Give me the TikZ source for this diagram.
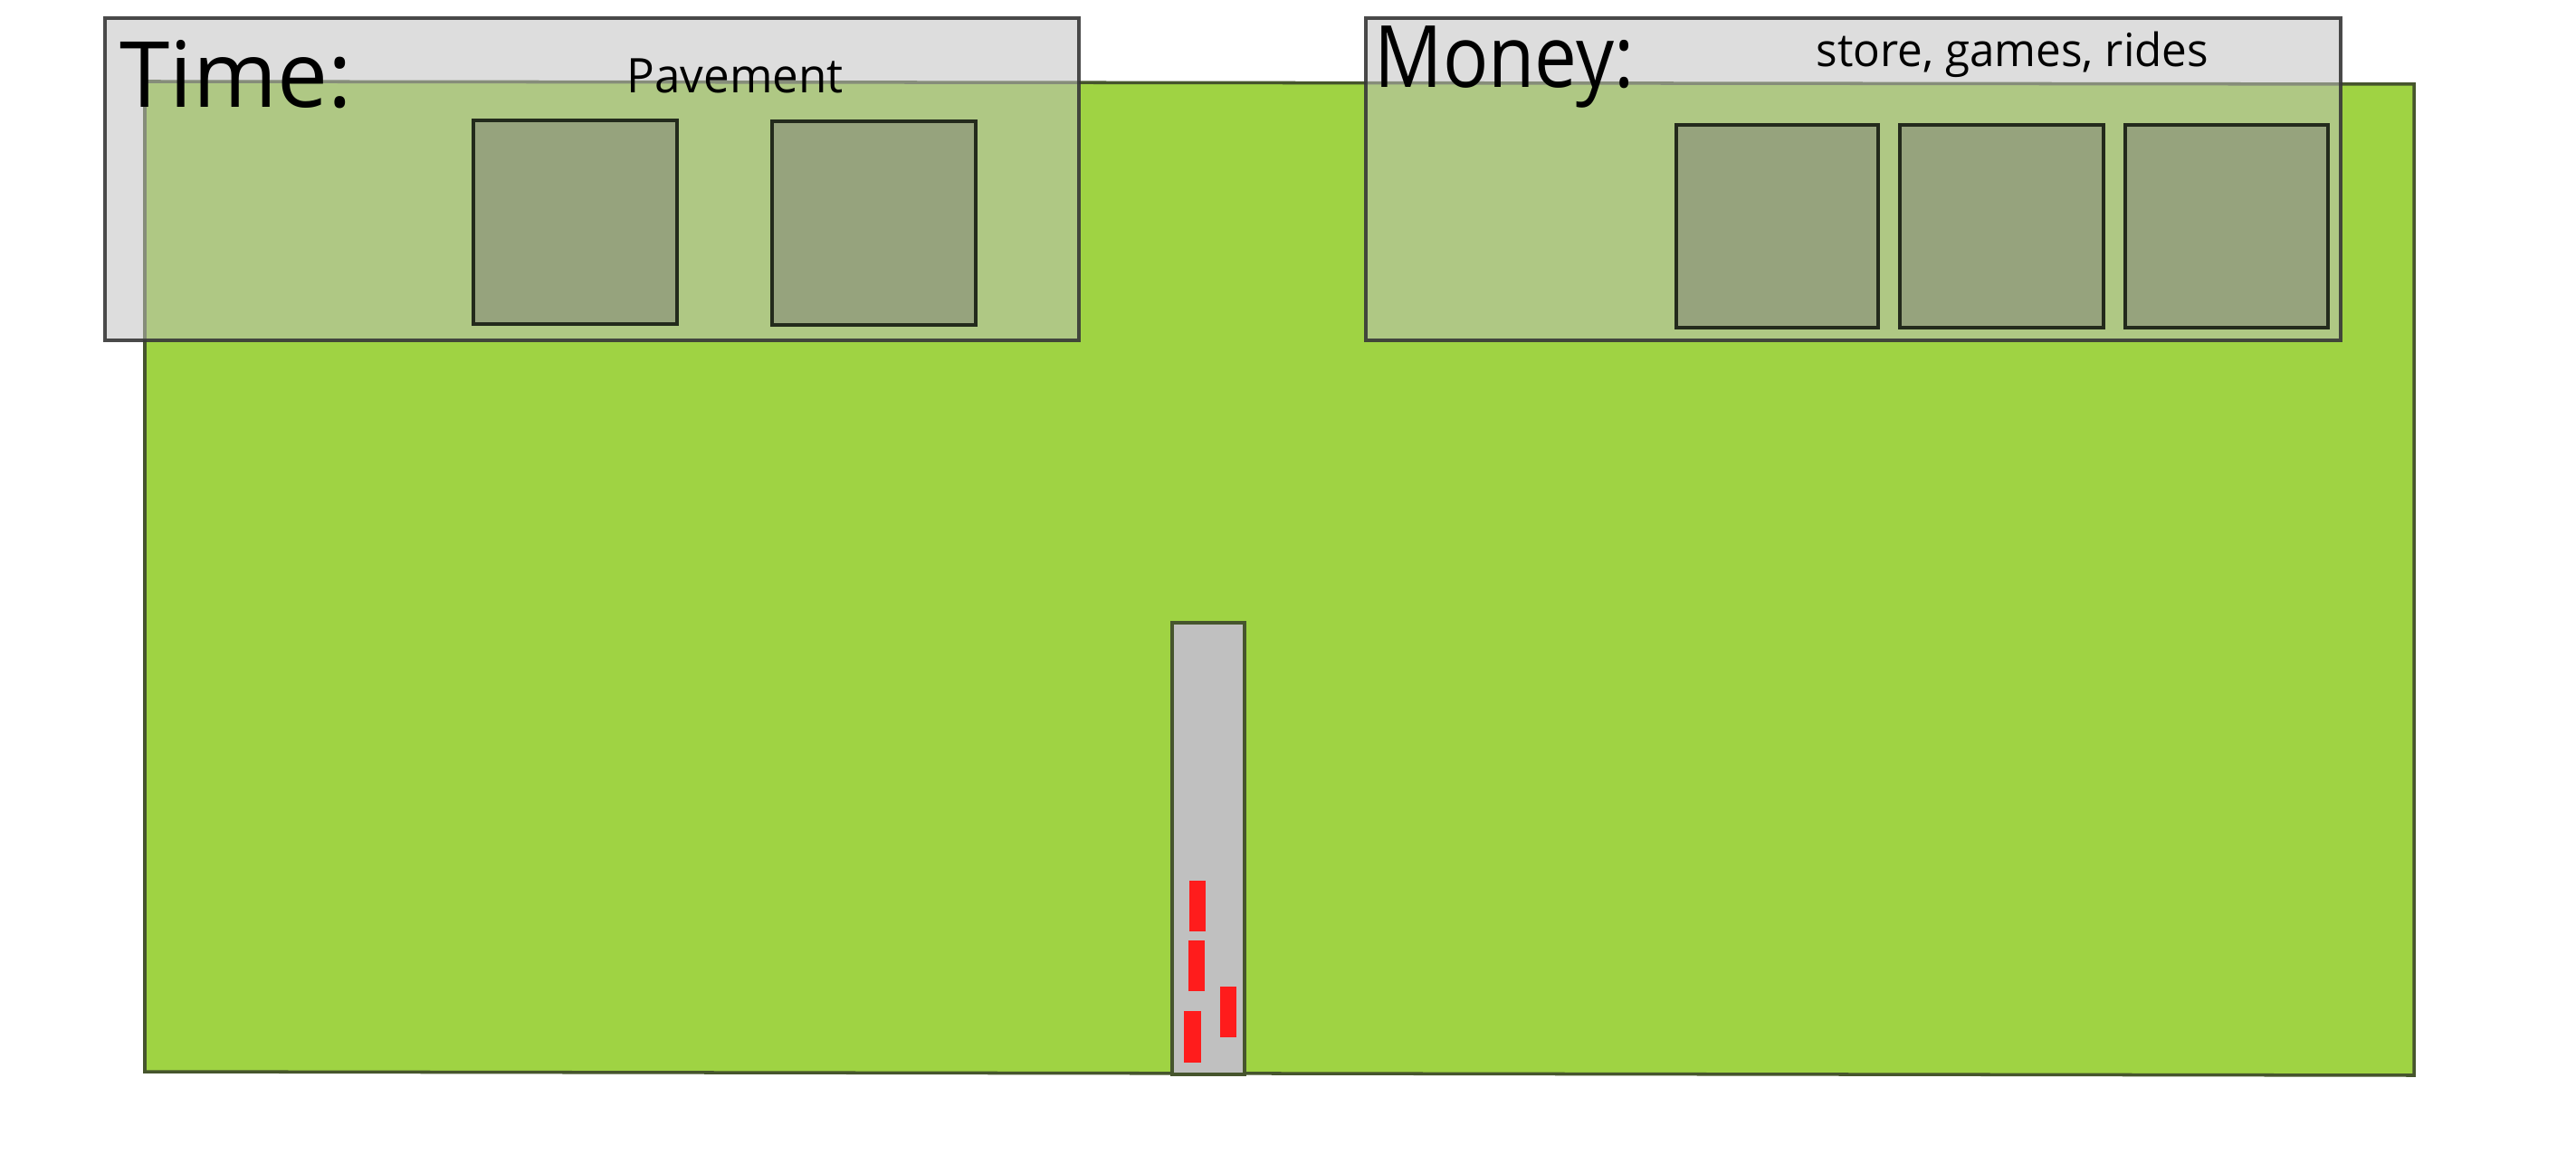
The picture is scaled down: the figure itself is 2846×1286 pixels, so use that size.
\documentclass[tikz,border=0pt]{standalone}
\usepackage{fontspec}
\setmainfont{Open Sans}
\definecolor{grass}{RGB}{159,211,67}
\definecolor{grassline}{RGB}{70,85,45}
\definecolor{boxfill}{RGB}{191,191,191}
\definecolor{boxline}{RGB}{55,55,55}
\definecolor{lotfill}{RGB}{150,163,125}
\definecolor{lotline}{RGB}{35,42,28}
\definecolor{roadfill}{RGB}{192,192,192}
\definecolor{carred}{RGB}{255,28,28}
\tikzset{
  panel/.style={fill=boxfill,fill opacity=0.53,draw=boxline,draw opacity=0.9,line width=1pt},
  lot/.style={fill=lotfill,draw=lotline,line width=1.3pt},
  road/.style={fill=roadfill,draw=grassline,line width=1pt},
  car/.style={fill=carred,draw=none},
  bigtxt/.style={anchor=base west,inner sep=0pt,text=black},
  smalltxt/.style={anchor=base west,inner sep=0pt,text=black}
}
\begin{document}
\begin{tikzpicture}[x=0.01cm,y=-0.01cm]
\useasboundingbox (0,0) rectangle (2846,1286);
% grass field
\draw[fill=grass,draw=grassline,line width=1pt] (160,90) -- (2667,93) -- (2667,1188) -- (160,1184) -- cycle;
% road
\draw[road] (1295,688) rectangle (1375,1187);
\fill[car] (1314,973) rectangle (1332,1029);
\fill[car] (1313,1039) rectangle (1331,1095);
\fill[car] (1348,1090) rectangle (1366,1146);
\fill[car] (1308,1117) rectangle (1327,1174);
% panels
\draw[panel] (116,20) rectangle (1192,376);
\draw[panel] (1509,20) rectangle (2586,376);
% lots
\draw[lot] (523,133) rectangle (748,358);
\draw[lot] (853,134) rectangle (1078,359);
\draw[lot] (1852,138) rectangle (2075,362);
\draw[lot] (2099,138) rectangle (2324,362);
\draw[lot] (2348,138) rectangle (2572,362);
% texts
\node[bigtxt,font=\fontsize{28.7pt}{30pt}\selectfont,xscale=0.99] (time) at (132,119) {Time:};
\node[smalltxt,font=\fontsize{15pt}{17pt}\selectfont,xscale=0.97] (pave) at (692,103) {Pavement};
\node[bigtxt,font=\fontsize{27pt}{29pt}\selectfont,xscale=0.88] (money) at (1518,97) {Money:};
\node[smalltxt,font=\fontsize{14.4pt}{16pt}\selectfont,xscale=0.975] (stores) at (2006,74) {store, games, rides};
\end{tikzpicture}
\end{document}
